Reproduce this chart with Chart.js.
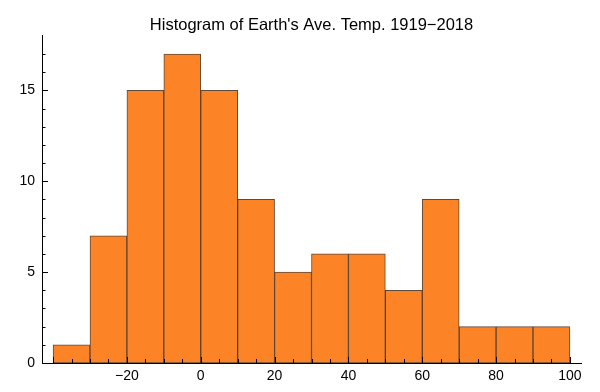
<!DOCTYPE html>
<html>
<head>
<meta charset="utf-8">
<script src="https://cdn.jsdelivr.net/npm/chart.js@4/dist/chart.umd.min.js"></script>
<style>
  html, body { margin: 0; padding: 0; background: #fff; }
  #wrap { width: 600px; height: 392px; }
</style>
</head>
<body>
<div id="wrap"><canvas id="myChart"></canvas></div>
<script>
// bins (left edges) and counts
const binStarts = [-40, -30, -20, -10, 0, 10, 20, 30, 40, 50, 60, 70, 80, 90];
const counts = [1, 7, 15, 17, 15, 9, 5, 6, 6, 4, 9, 2, 2, 2];
const binWidth = 10;
const xTickLabels = [-20, 0, 20, 40, 60, 80, 100];
const yTickLabels = [0, 5, 10, 15];

const fmt = v => (v < 0 ? '\u2212' + Math.abs(v) : String(v));

// tick marks pointing into the plot, major + minor
const insideTicks = {
    id: 'insideTicks',
    afterDatasetsDraw(chart) {
        const ctx = chart.ctx;
        const x = chart.scales.x, y = chart.scales.y;
        const a = chart.chartArea;
        ctx.save();
        ctx.strokeStyle = '#000';
        ctx.lineWidth = 1;
        ctx.beginPath();
        for (let v = -40; v <= 100; v += 5) {
            const px = Math.round(x.getPixelForValue(v)) + 0.5;
            const len = (v % 20 === 0) ? 6 : 4;
            ctx.moveTo(px, a.bottom);
            ctx.lineTo(px, a.bottom - len);
        }
        for (let v = 0; v <= 17; v++) {
            const py = Math.round(y.getPixelForValue(v)) + 0.5;
            const len = (v % 5 === 0) ? 6 : 3.5;
            ctx.moveTo(a.left, py);
            ctx.lineTo(a.left + len, py);
        }
        ctx.stroke();
        ctx.restore();
    }
};

const ctx = document.getElementById('myChart').getContext('2d');
const myChart = new Chart(ctx, {
    type: 'bar',
    data: {
        datasets: [{
            label: 'Years',
            data: binStarts.map((s, i) => ({ x: s + binWidth / 2, y: counts[i] })),
            backgroundColor: '#fc8426',
            borderColor: 'rgba(70, 40, 20, 0.85)',
            borderWidth: 1,
            borderSkipped: false,
            barPercentage: 1,
            categoryPercentage: 1
        }]
    },
    options: {
        responsive: true,
        maintainAspectRatio: false,
        animation: false,
        layout: { padding: { left: 0, right: 19, top: 0, bottom: 0 } },
        plugins: {
            legend: { display: false },
            tooltip: { enabled: false },
            title: {
                display: true,
                fullSize: false,
                text: 'Histogram of Earth\'s Ave. Temp. 1919\u22122018',
                color: '#000',
                font: { family: '"Liberation Sans", Arial, sans-serif', size: 16.5, weight: 'normal' },
                padding: { top: 16, bottom: 0 }
            }
        },
        scales: {
            x: {
                type: 'linear',
                min: -43,
                max: 103,
                offset: false,
                grid: { display: false, drawTicks: false },
                border: { display: true, color: '#000', width: 1 },
                afterBuildTicks: s => { s.ticks = xTickLabels.map(v => ({ value: v })); },
                afterFit: s => { s.height = 29; },
                ticks: {
                    color: '#000',
                    padding: 5,
                    maxRotation: 0,
                    font: { family: '"Liberation Sans", Arial, sans-serif', size: 14 },
                    callback: v => fmt(v)
                }
            },
            y: {
                min: 0,
                max: 18,
                grid: { display: false, drawTicks: false },
                border: { display: true, color: '#000', width: 1 },
                afterBuildTicks: s => { s.ticks = yTickLabels.map(v => ({ value: v })); },
                afterFit: s => { s.width = 42; },
                ticks: {
                    color: '#000',
                    padding: 7,
                    font: { family: '"Liberation Sans", Arial, sans-serif', size: 14 },
                    callback: v => fmt(v)
                }
            }
        }
    },
    plugins: [insideTicks]
});
</script>
</body>
</html>
